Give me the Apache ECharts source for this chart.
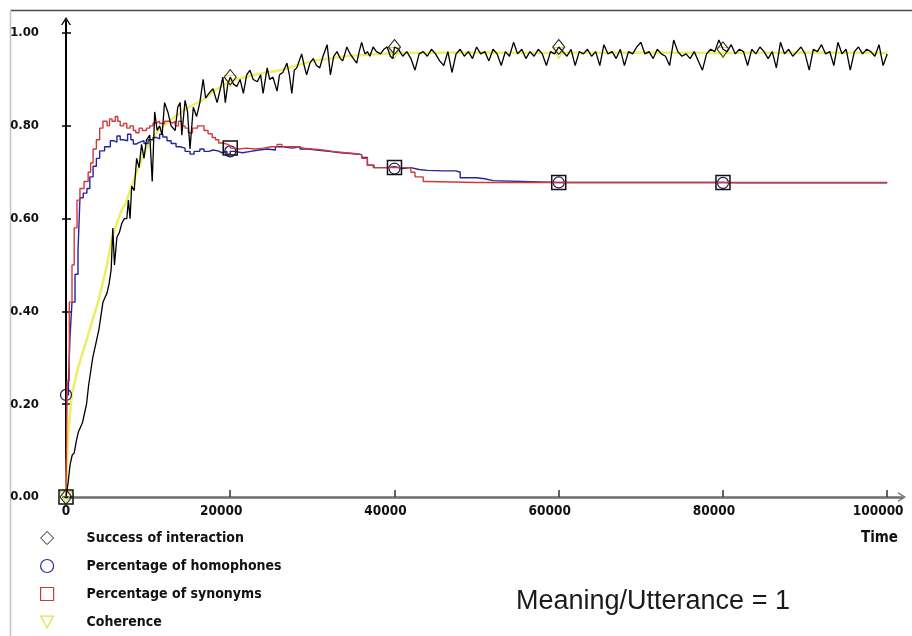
<!DOCTYPE html>
<html>
<head>
<meta charset="utf-8">
<script src="https://cdn.jsdelivr.net/npm/echarts@6/dist/echarts.min.js"></script>
<style>
  html, body { margin: 0; padding: 0; background: #fff; }
  #chart { width: 912px; height: 636px; }
</style>
</head>
<body>
<div id="chart"></div>
<script>
// Series labels, in legend order
const seriesNames = [
  'Success of interaction',
  'Percentage of homophones',
  'Percentage of synonyms',
  'Coherence'
];

// Axis tick values
const xTicks = [0, 20000, 40000, 60000, 80000, 100000];
const yTicks = [0, 0.2, 0.4, 0.6, 0.8, 1.0];

// Times at which each series carries its marker symbol
const markerTimes = [0, 20000, 40000, 60000, 80000];

// Success of interaction: [time, value]
const success = [
  [0, 0.0], [250, 0.03], [500, 0.07], [750, 0.09], [1000, 0.095], [1250, 0.12], [1500, 0.14],
  [1750, 0.15], [2000, 0.16], [2250, 0.18], [2500, 0.20], [2750, 0.24], [3000, 0.27], [3250, 0.30],
  [3500, 0.32], [3750, 0.34], [4000, 0.36], [4250, 0.39], [4500, 0.42], [4750, 0.43], [5000, 0.44],
  [5250, 0.46], [5500, 0.49], [5700, 0.58], [5900, 0.50], [6200, 0.56], [6500, 0.57], [6800, 0.59],
  [7100, 0.60], [7400, 0.60], [7600, 0.64], [7800, 0.60], [8000, 0.67], [8300, 0.66], [8600, 0.73],
  [8900, 0.71], [9200, 0.76], [9500, 0.73], [9800, 0.77], [10200, 0.78], [10500, 0.68], [10800, 0.83],
  [11100, 0.79], [11400, 0.80], [11700, 0.78], [12000, 0.85], [12400, 0.83], [12800, 0.80], [13300, 0.79],
  [13600, 0.84], [13900, 0.85], [14100, 0.78], [14500, 0.855], [14800, 0.83], [15100, 0.75], [15500, 0.84],
  [15900, 0.82], [16300, 0.85], [16700, 0.90], [17000, 0.86], [17400, 0.87], [17900, 0.88], [18400, 0.85],
  [18800, 0.88], [19100, 0.905], [19400, 0.85], [19700, 0.89], [20000, 0.905], [20400, 0.89], [20800, 0.885],
  [21200, 0.90], [21600, 0.87], [22000, 0.91], [22400, 0.92], [22800, 0.90], [23300, 0.895], [23700, 0.91],
  [24000, 0.87], [24500, 0.925], [24800, 0.90], [25200, 0.905], [25700, 0.875], [26000, 0.91], [26400, 0.915],
  [26900, 0.935], [27200, 0.91], [27500, 0.87], [27800, 0.92], [28100, 0.925], [28400, 0.94], [28700, 0.955],
  [29000, 0.93], [29300, 0.91], [29700, 0.935], [30100, 0.945], [30500, 0.93], [30900, 0.925], [31300, 0.95],
  [31800, 0.975], [32200, 0.91], [32600, 0.95], [33000, 0.96], [33400, 0.945], [33700, 0.94], [34200, 0.97],
  [34600, 0.955], [35000, 0.945], [35400, 0.935], [35700, 0.96], [36000, 0.98], [36400, 0.955], [36700, 0.96],
  [37000, 0.95], [37400, 0.97], [37800, 0.96], [38300, 0.955], [38700, 0.965], [39100, 0.97], [39500, 0.95],
  [39800, 0.945], [40000, 0.97], [40500, 0.965], [41000, 0.95], [41500, 0.96], [42000, 0.945], [42500, 0.92],
  [43000, 0.955], [43500, 0.96], [44000, 0.95], [44500, 0.965], [45000, 0.955], [45500, 0.94], [46000, 0.93],
  [46500, 0.96], [47000, 0.915], [47500, 0.955], [48000, 0.965], [48500, 0.95], [49000, 0.96], [49500, 0.945],
  [50000, 0.97], [50500, 0.955], [51000, 0.96], [51500, 0.94], [52000, 0.965], [52500, 0.955], [53000, 0.93],
  [53500, 0.96], [54000, 0.95], [54500, 0.98], [55000, 0.955], [55500, 0.965], [56000, 0.945], [56500, 0.96],
  [57000, 0.95], [57500, 0.965], [58000, 0.955], [58500, 0.93], [59000, 0.96], [59500, 0.955], [60000, 0.97],
  [60500, 0.96], [61000, 0.95], [61500, 0.965], [62000, 0.93], [62500, 0.96], [63000, 0.955], [63500, 0.965],
  [64000, 0.95], [64500, 0.96], [65000, 0.93], [65500, 0.975], [66000, 0.955], [66500, 0.96], [67000, 0.945],
  [67500, 0.965], [68000, 0.93], [68500, 0.96], [69000, 0.955], [69500, 0.97], [70000, 0.98], [70500, 0.955],
  [71000, 0.96], [71500, 0.945], [72000, 0.965], [72500, 0.955], [73000, 0.95], [73500, 0.93], [74000, 0.985],
  [74500, 0.96], [75000, 0.95], [75500, 0.955], [76000, 0.945], [76500, 0.96], [77000, 0.94], [77500, 0.92],
  [78000, 0.955], [78500, 0.965], [79000, 0.96], [79500, 0.985], [80000, 0.965], [80500, 0.96], [81000, 0.975],
  [81500, 0.955], [82000, 0.965], [82500, 0.96], [83000, 0.93], [83500, 0.965], [84000, 0.955], [84500, 0.97],
  [85000, 0.96], [85500, 0.945], [86000, 0.96], [86500, 0.925], [87000, 0.98], [87500, 0.955], [88000, 0.965],
  [88500, 0.95], [89000, 0.96], [89500, 0.97], [90000, 0.955], [90500, 0.92], [91000, 0.965], [91500, 0.96],
  [92000, 0.975], [92500, 0.955], [93000, 0.96], [93500, 0.93], [94000, 0.98], [94500, 0.955], [95000, 0.965],
  [95500, 0.92], [96000, 0.96], [96500, 0.97], [97000, 0.955], [97500, 0.965], [98000, 0.96], [98500, 0.95],
  [99000, 0.975], [99500, 0.93], [100000, 0.955]
];

// Percentage of homophones: [time, value]
const homophones = [
  [0, 0.22], [300, 0.25], [500, 0.35], [730, 0.42], [1100, 0.48], [1460, 0.53], [1700, 0.645], [2100, 0.655],
  [2550, 0.665], [2900, 0.69], [3300, 0.713], [3700, 0.73], [4100, 0.746], [4700, 0.755], [5400, 0.768],
  [5800, 0.765], [6200, 0.778], [6600, 0.77], [7000, 0.768], [7500, 0.782], [7900, 0.77], [8200, 0.761],
  [8600, 0.765], [9000, 0.768], [9500, 0.762], [10000, 0.77], [10600, 0.775], [11000, 0.772], [11400, 0.782],
  [11800, 0.776], [12300, 0.768], [12800, 0.762], [13400, 0.755], [13900, 0.752], [14500, 0.745], [15100, 0.739],
  [15600, 0.745], [16300, 0.75], [16800, 0.745], [17400, 0.748], [17900, 0.746], [18500, 0.742], [19000, 0.745],
  [19600, 0.739], [20000, 0.745], [20500, 0.742], [21500, 0.745], [22500, 0.748], [23500, 0.75], [24500, 0.748],
  [25500, 0.755], [26500, 0.752], [27500, 0.755], [28500, 0.75], [29500, 0.748], [30500, 0.745], [32000, 0.742],
  [33500, 0.74], [35000, 0.738], [36000, 0.732], [36700, 0.715], [37500, 0.71], [39000, 0.712], [40000, 0.708],
  [41000, 0.71], [42000, 0.706], [43000, 0.704], [44000, 0.703], [46000, 0.703], [47500, 0.70], [48000, 0.688],
  [50000, 0.686], [51000, 0.682], [52000, 0.678], [60000, 0.678], [73000, 0.678], [80000, 0.677], [82000, 0.677],
  [100000, 0.678]
];

// Percentage of synonyms: [time, value]
const synonyms = [
  [0, 0.0], [150, 0.25], [400, 0.42], [730, 0.50], [1000, 0.58], [1340, 0.64], [1700, 0.665], [2200, 0.68],
  [2700, 0.70], [3000, 0.72], [3300, 0.75], [3700, 0.77], [4100, 0.795], [4500, 0.81], [5000, 0.80], [5300, 0.815],
  [5600, 0.81], [6000, 0.82], [6300, 0.81], [6600, 0.80], [7000, 0.805], [7400, 0.795], [7800, 0.80], [8200, 0.79],
  [8500, 0.785], [8900, 0.795], [9300, 0.79], [9800, 0.795], [10200, 0.80], [10600, 0.806], [11000, 0.81],
  [11400, 0.805], [12000, 0.81], [12500, 0.806], [13000, 0.81], [13300, 0.80], [13700, 0.81], [14100, 0.80],
  [14500, 0.795], [14900, 0.785], [15400, 0.795], [16000, 0.80], [16300, 0.80], [16800, 0.79], [17300, 0.783],
  [17800, 0.775], [18200, 0.77], [18600, 0.763], [19100, 0.76], [19700, 0.757], [20000, 0.752], [20500, 0.75],
  [21000, 0.752], [22000, 0.75], [23000, 0.752], [24000, 0.755], [25000, 0.755], [25700, 0.76], [26300, 0.755],
  [27000, 0.755], [28000, 0.752], [29000, 0.75], [30000, 0.748], [31300, 0.745], [32500, 0.742], [34000, 0.74],
  [35400, 0.738], [36000, 0.73], [36700, 0.715], [37400, 0.71], [38500, 0.71], [40000, 0.71], [41000, 0.71],
  [42000, 0.70], [42500, 0.69], [43500, 0.68], [44000, 0.678], [50000, 0.678], [60000, 0.678], [70000, 0.678],
  [80000, 0.678], [90000, 0.678], [100000, 0.678]
];

// Coherence: [time, value]
const coherence = [
  [0, 0.0], [200, 0.12], [700, 0.22], [1500, 0.28], [2700, 0.35], [3900, 0.42], [5000, 0.50], [5600, 0.56],
  [6800, 0.62], [7200, 0.63], [8400, 0.69], [9600, 0.745], [11200, 0.79], [12900, 0.815], [14900, 0.84],
  [16600, 0.855], [18000, 0.875], [20000, 0.897], [23000, 0.91], [26000, 0.92], [30000, 0.94], [34000, 0.95],
  [38000, 0.955], [40000, 0.957], [50000, 0.958], [60000, 0.957], [70000, 0.958], [80000, 0.957],
  [90000, 0.958], [100000, 0.957]
];

const labelFont = '"DejaVu Sans Condensed", "Liberation Sans Narrow", "Arial Narrow", sans-serif';
const chevron = 'path://M0,8 L5,0 L10,8 L8.6,8 L5,2.4 L1.4,8 Z';
const triangleDown = 'path://M0,0 L10,0 L5,9 Z';

// symbol callback: only the marker times get a symbol
function markedSymbol(type) {
  return function (value) {
    return markerTimes.indexOf(value[0]) >= 0 ? type : 'none';
  };
}

const chart = echarts.init(document.getElementById('chart'), null, { renderer: 'canvas' });

const option = {
  animation: false,
  backgroundColor: '#ffffff',
  grid: { left: 66, right: 10, top: 21, bottom: 139 },
  xAxis: {
    type: 'value',
    min: 0,
    max: 101800,
    axisLine: {
      show: true,
      onZero: false,
      lineStyle: { color: '#6e6e6e', width: 2.5 },
      symbol: ['none', chevron],
      symbolSize: [10, 8]
    },
    axisTick: {
      show: true, inside: true, length: 7,
      customValues: xTicks,
      lineStyle: { color: '#333', width: 1.5 }
    },
    axisLabel: {
      customValues: xTicks,
      margin: 7,
      formatter: function (v) { return v === 0 ? '{z|0}' : '{n|' + v + '}'; },
      rich: {
        z: { fontFamily: labelFont, fontWeight: 'bold', fontSize: 13.5, color: '#111' },
        n: { fontFamily: labelFont, fontWeight: 'bold', fontSize: 13.5, color: '#111', padding: [0, 18, 0, 0] }
      }
    },
    splitLine: { show: false }
  },
  yAxis: [
    {
      type: 'value',
      min: 0,
      max: 1.026,
      axisLine: {
        show: true,
        lineStyle: { color: '#000', width: 2 },
        symbol: ['none', chevron],
        symbolSize: [10, 8]
      },
      axisTick: {
        show: true, length: 4,
        customValues: yTicks,
        lineStyle: { color: '#000', width: 1.5 }
      },
      axisLabel: {
        customValues: yTicks,
        margin: 27,
        formatter: function (v) { return v.toFixed(2); },
        fontFamily: labelFont, fontWeight: 'bold', fontSize: 13, color: '#111'
      },
      splitLine: { show: false }
    },
    {
      type: 'value',
      min: 0,
      max: 1.026,
      position: 'left',
      axisLine: { show: false },
      axisTick: {
        show: true, inside: true, length: 5,
        customValues: yTicks,
        lineStyle: { color: '#000', width: 1.5 }
      },
      axisLabel: { show: false },
      splitLine: { show: false }
    }
  ],
  legend: {
    orient: 'vertical',
    left: 40,
    top: 529,
    padding: 0,
    itemWidth: 13,
    itemHeight: 13,
    itemGap: 10,
    selectedMode: false,
    textStyle: {
      fontFamily: labelFont, fontWeight: 'bold', fontSize: 14, color: '#111',
      lineHeight: 18,
      padding: [0, 0, 0, 28]
    },
    data: [
      { name: seriesNames[0], icon: 'diamond', itemStyle: { color: '#fff', borderColor: '#222', borderWidth: 1 } },
      { name: seriesNames[1], icon: 'circle', itemStyle: { color: '#fff', borderColor: '#2a2aa0', borderWidth: 1.2 } },
      { name: seriesNames[2], icon: 'rect', itemStyle: { color: '#fff', borderColor: '#c83c3c', borderWidth: 1.2 } },
      { name: seriesNames[3], icon: triangleDown, itemStyle: { color: '#fff', borderColor: '#e0e050', borderWidth: 1.2 } }
    ]
  },
  series: [
    {
      name: seriesNames[3],
      type: 'line',
      data: coherence,
      z: 2,
      symbol: markedSymbol(triangleDown),
      symbolSize: [12, 11],
      lineStyle: { color: '#eeee62', width: 2.5 },
      itemStyle: { color: 'rgba(0,0,0,0)', borderColor: '#d8d848', borderWidth: 1 },
      silent: true
    },
    {
      name: seriesNames[1],
      type: 'line',
      step: 'end',
      data: homophones,
      z: 3,
      symbol: markedSymbol('circle'),
      symbolSize: 11,
      lineStyle: { color: '#2424a0', width: 1.4 },
      itemStyle: { color: 'rgba(0,0,0,0)', borderColor: '#1a1a50', borderWidth: 1.2 },
      silent: true
    },
    {
      name: seriesNames[2],
      type: 'line',
      step: 'end',
      data: synonyms,
      z: 4,
      symbol: markedSymbol('rect'),
      symbolSize: 14,
      lineStyle: { color: '#d23a3a', width: 1.4 },
      itemStyle: { color: 'rgba(0,0,0,0)', borderColor: '#111', borderWidth: 1.5 },
      silent: true
    },
    {
      name: seriesNames[0],
      type: 'line',
      data: success,
      z: 5,
      symbol: markedSymbol('diamond'),
      symbolSize: [12, 15],
      lineStyle: { color: '#000', width: 1.3 },
      itemStyle: { color: 'rgba(0,0,0,0)', borderColor: '#222', borderWidth: 1 },
      silent: true
    }
  ],
  graphic: [
    { type: 'line', silent: true, shape: { x1: 10, y1: 10.5, x2: 912, y2: 10.5 }, style: { stroke: '#4a4a4a', lineWidth: 1.5 } },
    { type: 'line', silent: true, shape: { x1: 10.5, y1: 10, x2: 10.5, y2: 636 }, style: { stroke: '#c4c4c4', lineWidth: 1.5 } },
    {
      type: 'text', silent: true, x: 898, y: 538,
      style: { text: 'Time', fontFamily: labelFont, fontWeight: 'bold', fontSize: 15, fill: '#111', align: 'right', verticalAlign: 'middle' }
    },
    {
      type: 'text', silent: true, x: 516, y: 602,
      style: { text: 'Meaning/Utterance = 1', fontFamily: '"Liberation Sans", Arial, sans-serif', fontSize: 27, fill: '#1a1a1a', align: 'left', verticalAlign: 'middle' }
    }
  ]
};

chart.setOption(option);
</script>
</body>
</html>
